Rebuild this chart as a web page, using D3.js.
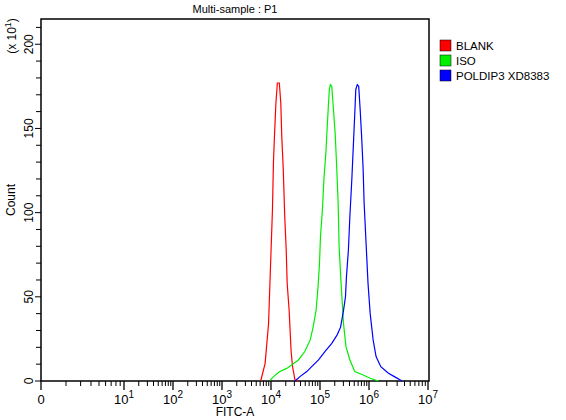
<!DOCTYPE html>
<html><head><meta charset="utf-8">
<script src="https://cdn.jsdelivr.net/npm/d3@7"></script>
<style>body{margin:0;background:#fff}text{font-family:Arial,"Liberation Sans",sans-serif}</style>
</head><body><svg id="c" width="566" height="420"></svg>
<script>
// x values are log10(FITC-A); y values are counts (x10)
const blankX = [3.79,3.88,3.95,3.99,4.03,4.05,4.07,4.10,4.13,4.17,4.20,4.22,4.25,4.28,4.31,4.33,4.37,4.41,4.44,4.49,4.56];
const blankY = [0,10.5,34,68,102,130,145,165,177,177,165,145,126,98,78,58,42,18,8.5,0.6,0];
const isoX = [3.98,4.05,4.18,4.32,4.42,4.56,4.69,4.80,4.86,4.92,4.96,4.99,5.01,5.05,5.08,5.12,5.14,5.17,5.19,5.21,5.24,5.27,5.31,5.34,5.37,5.39,5.43,5.48,5.53,5.61,5.71,5.88,6.02,6.16];
const isoY = [0.4,2.6,5.6,7.5,9.5,12.5,17.5,24.4,32,42,56,70,86,102,120,135.5,147,163,173,176,175,163,147,127.5,106,80,58,34,20.4,12.5,5.6,3.6,1.6,0];
const polX = [4.49,4.59,4.73,4.83,4.97,5.10,5.24,5.35,5.42,5.48,5.52,5.54,5.58,5.61,5.65,5.68,5.71,5.73,5.76,5.79,5.82,5.85,5.88,5.90,5.94,5.98,6.02,6.07,6.12,6.20,6.33,6.43,6.56];
const polY = [0,2.6,5.6,8.5,12.5,17.5,22.4,27.4,32,42,50,62,78,98,120,139.5,159,173,176,175,161,145,126,106,82,58,40,24.4,14.5,8.5,4.6,2.6,0];
const seriesNames = ["BLANK","ISO","POLDIP3 XD8383"];
const seriesColors = ["#ff0000","#00ee00","#0000ff"];
const xTickLabels = ["0","10","10","10","10","10","10","10"];
const xTickExp = ["","1","2","3","4","5","6","7"];
const yTicks = [0,50,100,150,200];

const svg = d3.select("#c");
const L=41,R=429,T=19,B=381;
const x = d3.scaleLinear().domain([0,1,2,3,4,5,6,7]).range([41,124,173,222,271,320,369,428]);
const y = d3.scaleLinear().domain([0,215]).range([B,T]);

svg.append("rect").attr("x",L).attr("y",T).attr("width",R-L).attr("height",B-T)
  .attr("fill","none").attr("stroke","#000").attr("stroke-width",1.5);

const g = svg.append("g");
for(let d=0; d<7; d++){
  for(let k=2;k<=9;k++){
    const xv = x(d+Math.log10(k));
    g.append("line").attr("x1",xv).attr("x2",xv).attr("y1",B).attr("y2",B+5).attr("stroke","#000");
  }
}
for(let d=0; d<=7; d++){
  const xv=x(d);
  g.append("line").attr("x1",xv).attr("x2",xv).attr("y1",B).attr("y2",B+9).attr("stroke","#000").attr("stroke-width",1.3);
  const t=g.append("text").attr("x",xv).attr("y",404).attr("text-anchor","middle").attr("font-size",13);
  t.append("tspan").text(xTickLabels[d]);
  if(xTickExp[d]) t.append("tspan").attr("dy",-6).attr("font-size",10).text(xTickExp[d]);
}
for(let v=0; v<=210; v+=10){
  g.append("line").attr("x1",L-(v%50===0?6:5)).attr("x2",L).attr("y1",y(v)).attr("y2",y(v)).attr("stroke","#000");
}
yTicks.forEach(v=>{
  g.append("text").attr("transform",`translate(33,${y(v)}) rotate(-90)`).attr("text-anchor","middle")
   .attr("font-size",12).text(v);
});

const line = d3.line().x(d=>x(d[0])).y(d=>y(d[1]));
[[blankX,blankY],[isoX,isoY],[polX,polY]].forEach((s,i)=>{
  svg.append("path").datum(s[0].map((v,j)=>[v,s[1][j]])).attr("d",line)
    .attr("fill","none").attr("stroke",seriesColors[i]).attr("stroke-width",1.2);
});

svg.append("text").attr("x",235).attr("y",13).attr("text-anchor","middle").attr("font-size",11).text("Multi-sample : P1");
svg.append("text").attr("x",235).attr("y",416).attr("text-anchor","middle").attr("font-size",12).text("FITC-A");
svg.append("text").attr("transform","translate(15,200) rotate(-90)").attr("text-anchor","middle").attr("font-size",12).text("Count");
const u=svg.append("text").attr("transform","translate(16,36) rotate(-90)").attr("text-anchor","middle").attr("font-size",12);
u.append("tspan").text("(x 10");u.append("tspan").attr("dy",-5).attr("font-size",9).text("1");u.append("tspan").attr("dy",5).text(")");

seriesNames.forEach((n,i)=>{
  svg.append("rect").attr("x",440).attr("y",40+i*15).attr("width",11).attr("height",11).attr("fill",seriesColors[i]).attr("stroke","#000").attr("stroke-width",0.5);
  svg.append("text").attr("x",456).attr("y",50+i*15).attr("font-size",11.5).text(n);
});
</script></body></html>
